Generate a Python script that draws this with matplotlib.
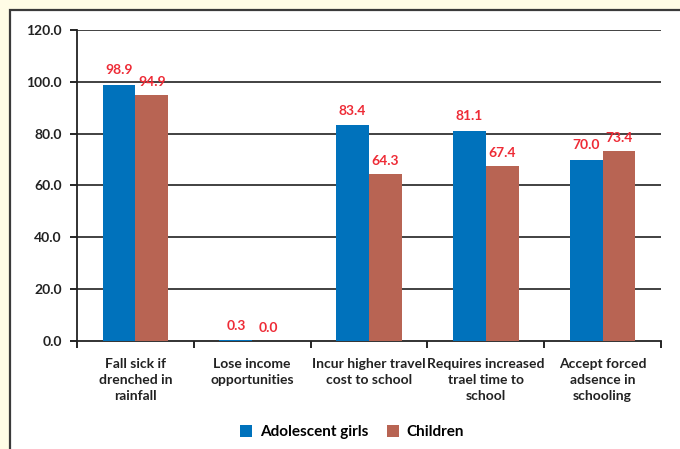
import matplotlib
matplotlib.use("Agg")
import matplotlib.pyplot as plt
from matplotlib.patches import Rectangle
import numpy as np

categories = [
    "Fall sick if\ndrenched in\nrainfall",
    "Lose income\nopportunities",
    "Incur higher travel\ncost to school",
    "Requires increased\ntrael time to\nschool",
    "Accept forced\nadsence in\nschooling",
]
girls = [98.9, 0.3, 83.4, 81.1, 70.0]
children = [94.9, 0.0, 64.3, 67.4, 73.4]
yticks = [0, 20, 40, 60, 80, 100, 120]

BLUE = "#0072BC"
RED = "#B86453"
LABEL_RED = "#EE2B36"
CREAM = "#FFFCE6"

plt.rcParams["font.family"] = ["Lato", "DejaVu Sans"]

W, H = 680, 449
fig = plt.figure(figsize=(W / 100, H / 100), dpi=100, facecolor=CREAM)

# white panel with dark border (runs off right and bottom edges)
panel = Rectangle((9.5 / W, -0.05), 1.1, 1 - 9.5 / H + 0.05, transform=fig.transFigure,
                  facecolor="white", edgecolor="#3a3a3a", linewidth=1.6, zorder=-5)
fig.patches.append(panel)

ax = fig.add_axes([77 / W, (H - 341) / H, (661 - 77) / W, (341 - 30) / H])
ax.set_facecolor("none")

x = np.arange(len(categories))
bw = 0.28
ax.bar(x - bw / 2, girls, bw, color=BLUE, zorder=3, label="Adolescent girls")
ax.bar(x + bw / 2, children, bw, color=RED, zorder=3, label="Children")

for xi, v in zip(x - bw / 2, girls):
    ax.annotate(f"{v:.1f}", (xi, v), xytext=(0, 6), textcoords="offset points",
                ha="center", va="bottom", color=LABEL_RED, fontsize=10, fontweight="bold")
for xi, v in zip(x + bw / 2, children):
    ax.annotate(f"{v:.1f}", (xi, v), xytext=(0, 5), textcoords="offset points",
                ha="center", va="bottom", color=LABEL_RED, fontsize=10, fontweight="bold")

ax.set_xlim(-0.5, len(categories) - 0.5)
ax.set_ylim(0, 120)
ax.set_yticks(yticks)
ax.set_yticklabels([f"{t:.1f}" for t in yticks], fontsize=10, fontweight="bold", color="#222")
for t in yticks[1:]:
    ax.axhline(t, color="#333333", linewidth=1.3, zorder=1)

ax.set_xticks(np.arange(-0.5, len(categories)), labels=[""] * (len(categories) + 1))
ax.set_xticks(x, labels=categories, minor=True)
ax.tick_params(axis="x", which="major", length=5, width=1.2, direction="out")
ax.tick_params(axis="x", which="minor", length=0, pad=12, labelsize=10, labelcolor="#222")
for lbl in ax.get_xticklabels(minor=True):
    lbl.set_fontweight("bold")
    lbl.set_linespacing(1.4)
ax.tick_params(axis="y", length=5, width=1.2, pad=6)

for s in ["top", "right"]:
    ax.spines[s].set_visible(False)
ax.spines["left"].set_linewidth(1.3)
ax.spines["bottom"].set_linewidth(1.3)
ax.spines["left"].set_color("#222")
ax.spines["bottom"].set_color("#222")

fig.legend(loc="center", bbox_to_anchor=(352 / W, (H - 432) / H), ncol=2, frameon=False,
           handlelength=0.8, handleheight=0.8, handletextpad=0.5, columnspacing=1.2,
           prop={"size": 11, "weight": "bold"})

fig.savefig("out.png", dpi=100, facecolor=CREAM)
